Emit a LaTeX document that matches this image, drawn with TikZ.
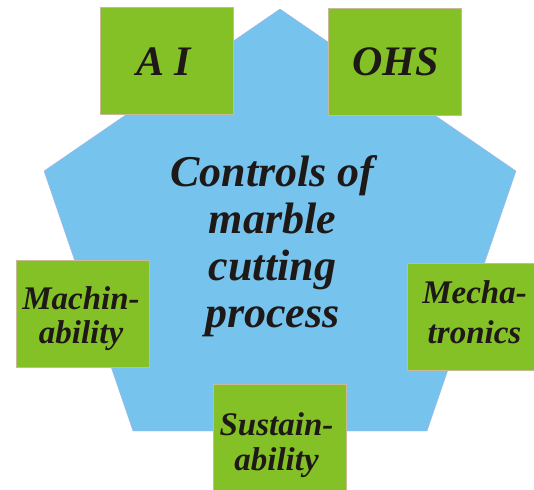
\documentclass[tikz,border=0pt]{standalone}
\usepackage{fontspec}
\setmainfont{Liberation Serif}
\definecolor{skyfill}{RGB}{118,195,238}
\definecolor{skyedge}{RGB}{175,180,228}
\definecolor{leaf}{RGB}{132,193,38}
\definecolor{leafedge}{RGB}{200,186,150}
\definecolor{ink}{RGB}{30,25,22}
\begin{document}
\begin{tikzpicture}[x=1pt,y=-1pt,
  tile/.style={draw=leafedge, line width=0.8pt, fill=leaf, minimum width=133pt, minimum height=107pt, inner sep=0pt},
  lbl/.style={text=ink, inner sep=0pt, align=center, font=\bfseries\itshape},
  big/.style={lbl, font=\fontsize{44}{47}\selectfont\bfseries\itshape},
  mid/.style={lbl, font=\fontsize{42}{42}\selectfont\bfseries\itshape},
  small/.style={lbl, font=\fontsize{33}{#1}\selectfont\bfseries\itshape}]
\useasboundingbox (0,0) rectangle (534,489);
\clip (0,0) rectangle (534,489);
% pentagon corners
\coordinate (pTop) at (280,9);
\coordinate (pRight) at (516,171);
\coordinate (pBR) at (427,431);
\coordinate (pBL) at (133,431);
\coordinate (pLeft) at (44,171);
\fill[skyfill, draw=skyedge, line width=0.4pt] (pTop) -- (pRight) -- (pBR) -- (pBL) -- (pLeft) -- cycle;
% central title
\node[big, anchor=north] (title) at (272.5,155.5) {Controls of\\marble\\cutting\\process};
% the five tiles
\node[tile] (ai) at (166.5,60.5) {};
\node[tile] (ohs) at (394.5,62) {};
\node[tile] (mach) at (82.5,314) {};
\node[tile] (mech) at (473.5,316.5) {};
\node[tile] (sust) at (279.5,438) {};
% tile labels
\node[mid, anchor=base] (aitxt) at (163.5,76) {A I};
\node[mid, anchor=base] (ohstxt) at (395.5,76) {OHS};
\node[small=34.5, anchor=north] (machtxt) at (81,286) {Machin-\\ability};
\node[small=39.5, anchor=north] (mechtxt) at (474.5,280.5) {Mecha-\\tronics};
\node[small=35, anchor=north] (susttxt) at (276.5,412.5) {Sustain-\\ability};
\end{tikzpicture}
\end{document}
